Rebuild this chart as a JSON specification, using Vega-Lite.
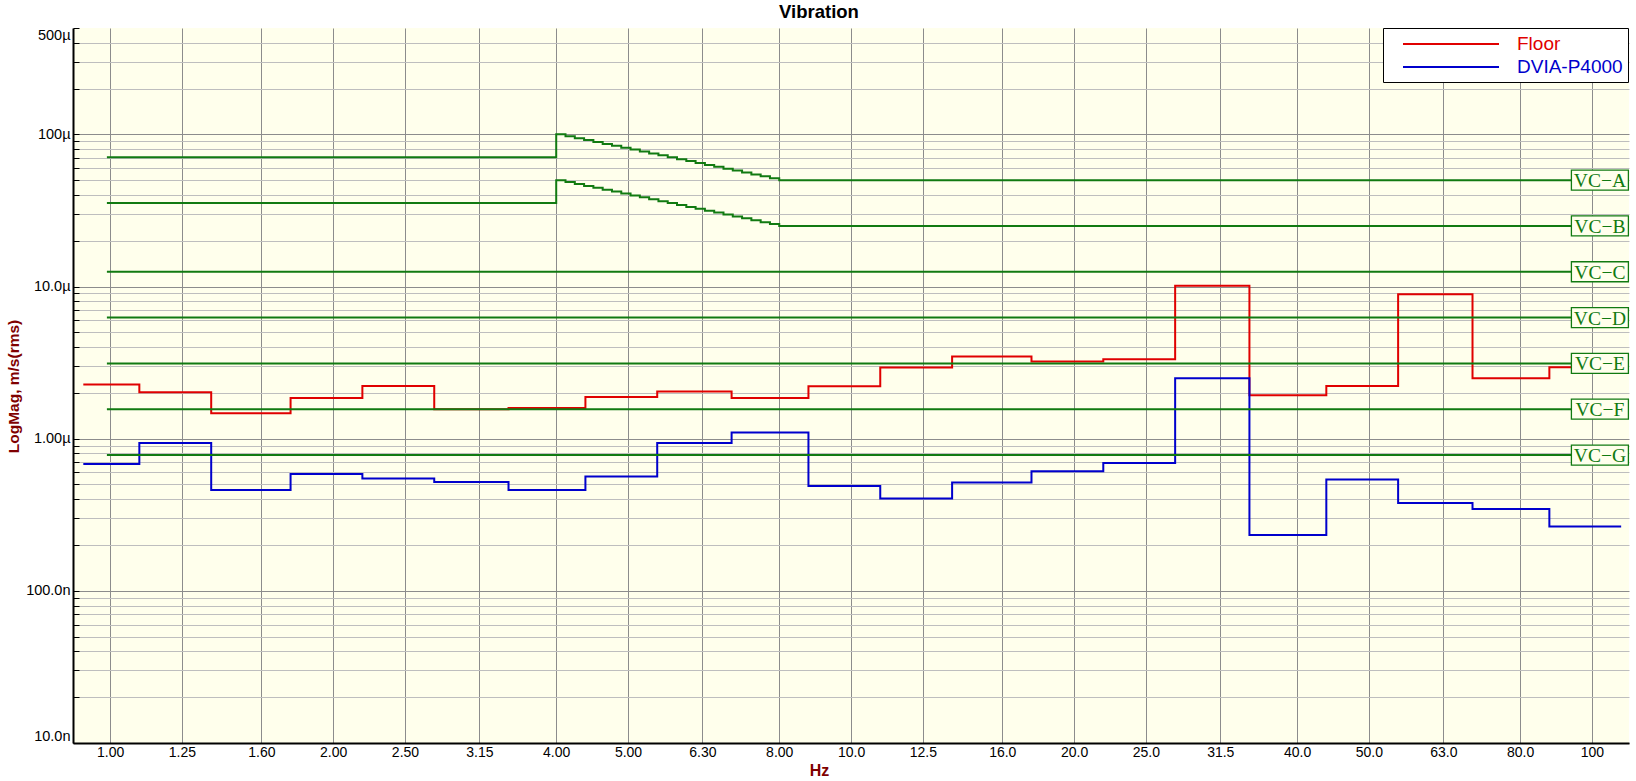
{
  "$schema": "https://vega.github.io/schema/vega-lite/v6.json",
  "width": 1556,
  "height": 715,
  "autosize": {"type": "none"},
  "padding": {"left": 73, "top": 28, "right": 7, "bottom": 38},
  "background": "white",
  "config": {"view": {"fill": "#FFFFEC", "stroke": null}, "font": "Liberation Sans"},
  "title": {"text": "Vibration", "fontSize": 18.5, "fontWeight": "bold", "font": "Liberation Sans", "color": "black", "anchor": "middle", "frame": "group", "dx": -32, "dy": 21, "offset": 12, "baseline": "alphabetic"},
  "datasets": {
    "spectra": [
      {"series": "Floor", "f": 0.92, "v": 2.27e-6},
      {"series": "Floor", "f": 1.095, "v": 2.02e-6},
      {"series": "Floor", "f": 1.369, "v": 1.47e-6},
      {"series": "Floor", "f": 1.752, "v": 1.85e-6},
      {"series": "Floor", "f": 2.19, "v": 2.22e-6},
      {"series": "Floor", "f": 2.738, "v": 1.5625e-6},
      {"series": "Floor", "f": 3.449, "v": 1.59e-6},
      {"series": "Floor", "f": 4.38, "v": 1.88e-6},
      {"series": "Floor", "f": 5.475, "v": 2.04e-6},
      {"series": "Floor", "f": 6.899, "v": 1.85e-6},
      {"series": "Floor", "f": 8.76, "v": 2.21e-6},
      {"series": "Floor", "f": 10.95, "v": 2.94e-6},
      {"series": "Floor", "f": 13.69, "v": 3.47e-6},
      {"series": "Floor", "f": 17.52, "v": 3.22e-6},
      {"series": "Floor", "f": 21.9, "v": 3.33e-6},
      {"series": "Floor", "f": 27.38, "v": 10.1e-6},
      {"series": "Floor", "f": 34.49, "v": 1.93e-6},
      {"series": "Floor", "f": 43.8, "v": 2.22e-6},
      {"series": "Floor", "f": 54.75, "v": 8.91e-6},
      {"series": "Floor", "f": 68.99, "v": 2.5e-6},
      {"series": "Floor", "f": 87.6, "v": 2.95e-6},
      {"series": "Floor", "f": 109.5, "v": 2.95e-6},
      {"series": "DVIA-P4000", "f": 0.92, "v": 0.681e-6},
      {"series": "DVIA-P4000", "f": 1.095, "v": 0.936e-6},
      {"series": "DVIA-P4000", "f": 1.369, "v": 0.46e-6},
      {"series": "DVIA-P4000", "f": 1.752, "v": 0.585e-6},
      {"series": "DVIA-P4000", "f": 2.19, "v": 0.548e-6},
      {"series": "DVIA-P4000", "f": 2.738, "v": 0.519e-6},
      {"series": "DVIA-P4000", "f": 3.449, "v": 0.46e-6},
      {"series": "DVIA-P4000", "f": 4.38, "v": 0.565e-6},
      {"series": "DVIA-P4000", "f": 5.475, "v": 0.936e-6},
      {"series": "DVIA-P4000", "f": 6.899, "v": 1.1e-6},
      {"series": "DVIA-P4000", "f": 8.76, "v": 0.488e-6},
      {"series": "DVIA-P4000", "f": 10.95, "v": 0.405e-6},
      {"series": "DVIA-P4000", "f": 13.69, "v": 0.516e-6},
      {"series": "DVIA-P4000", "f": 17.52, "v": 0.61e-6},
      {"series": "DVIA-P4000", "f": 21.9, "v": 0.691e-6},
      {"series": "DVIA-P4000", "f": 27.38, "v": 2.5e-6},
      {"series": "DVIA-P4000", "f": 34.49, "v": 0.233e-6},
      {"series": "DVIA-P4000", "f": 43.8, "v": 0.54e-6},
      {"series": "DVIA-P4000", "f": 54.75, "v": 0.3775e-6},
      {"series": "DVIA-P4000", "f": 68.99, "v": 0.345e-6},
      {"series": "DVIA-P4000", "f": 87.6, "v": 0.265e-6},
      {"series": "DVIA-P4000", "f": 109.5, "v": 0.265e-6}
    ],
    "vc": [
      {"name": "VC-A", "f": 0.99, "v": 70.7e-6},
      {"name": "VC-A", "f": 4.0, "v": 100e-6},
      {"name": "VC-A", "f": 4.1172, "v": 97.153e-6},
      {"name": "VC-A", "f": 4.2379, "v": 94.387e-6},
      {"name": "VC-A", "f": 4.362, "v": 91.7e-6},
      {"name": "VC-A", "f": 4.4898, "v": 89.09e-6},
      {"name": "VC-A", "f": 4.6214, "v": 86.553e-6},
      {"name": "VC-A", "f": 4.7568, "v": 84.09e-6},
      {"name": "VC-A", "f": 4.8962, "v": 81.697e-6},
      {"name": "VC-A", "f": 5.0397, "v": 79.37e-6},
      {"name": "VC-A", "f": 5.1874, "v": 77.111e-6},
      {"name": "VC-A", "f": 5.3394, "v": 74.915e-6},
      {"name": "VC-A", "f": 5.4958, "v": 72.783e-6},
      {"name": "VC-A", "f": 5.6569, "v": 70.711e-6},
      {"name": "VC-A", "f": 5.8226, "v": 68.698e-6},
      {"name": "VC-A", "f": 5.9932, "v": 66.742e-6},
      {"name": "VC-A", "f": 6.1688, "v": 64.842e-6},
      {"name": "VC-A", "f": 6.3496, "v": 62.996e-6},
      {"name": "VC-A", "f": 6.5357, "v": 61.202e-6},
      {"name": "VC-A", "f": 6.7272, "v": 59.46e-6},
      {"name": "VC-A", "f": 6.9243, "v": 57.768e-6},
      {"name": "VC-A", "f": 7.1272, "v": 56.123e-6},
      {"name": "VC-A", "f": 7.336, "v": 54.525e-6},
      {"name": "VC-A", "f": 7.551, "v": 52.973e-6},
      {"name": "VC-A", "f": 7.7723, "v": 51.465e-6},
      {"name": "VC-A", "f": 8.0, "v": 50e-6},
      {"name": "VC-A", "f": 100, "v": 50e-6},
      {"name": "VC-B", "f": 0.99, "v": 35.36e-6},
      {"name": "VC-B", "f": 4.0, "v": 50e-6},
      {"name": "VC-B", "f": 4.1172, "v": 48.577e-6},
      {"name": "VC-B", "f": 4.2379, "v": 47.194e-6},
      {"name": "VC-B", "f": 4.362, "v": 45.85e-6},
      {"name": "VC-B", "f": 4.4898, "v": 44.545e-6},
      {"name": "VC-B", "f": 4.6214, "v": 43.277e-6},
      {"name": "VC-B", "f": 4.7568, "v": 42.045e-6},
      {"name": "VC-B", "f": 4.8962, "v": 40.849e-6},
      {"name": "VC-B", "f": 5.0397, "v": 39.685e-6},
      {"name": "VC-B", "f": 5.1874, "v": 38.556e-6},
      {"name": "VC-B", "f": 5.3394, "v": 37.458e-6},
      {"name": "VC-B", "f": 5.4958, "v": 36.392e-6},
      {"name": "VC-B", "f": 5.6569, "v": 35.356e-6},
      {"name": "VC-B", "f": 5.8226, "v": 34.349e-6},
      {"name": "VC-B", "f": 5.9932, "v": 33.371e-6},
      {"name": "VC-B", "f": 6.1688, "v": 32.421e-6},
      {"name": "VC-B", "f": 6.3496, "v": 31.498e-6},
      {"name": "VC-B", "f": 6.5357, "v": 30.601e-6},
      {"name": "VC-B", "f": 6.7272, "v": 29.73e-6},
      {"name": "VC-B", "f": 6.9243, "v": 28.884e-6},
      {"name": "VC-B", "f": 7.1272, "v": 28.062e-6},
      {"name": "VC-B", "f": 7.336, "v": 27.263e-6},
      {"name": "VC-B", "f": 7.551, "v": 26.487e-6},
      {"name": "VC-B", "f": 7.7723, "v": 25.733e-6},
      {"name": "VC-B", "f": 8.0, "v": 25e-6},
      {"name": "VC-B", "f": 100, "v": 25e-6},
      {"name": "VC-C", "f": 0.99, "v": 12.5e-6},
      {"name": "VC-C", "f": 100, "v": 12.5e-6},
      {"name": "VC-D", "f": 0.99, "v": 6.25e-6},
      {"name": "VC-D", "f": 100, "v": 6.25e-6},
      {"name": "VC-E", "f": 0.99, "v": 3.125e-6},
      {"name": "VC-E", "f": 100, "v": 3.125e-6},
      {"name": "VC-F", "f": 0.99, "v": 1.5625e-6},
      {"name": "VC-F", "f": 100, "v": 1.5625e-6},
      {"name": "VC-G", "f": 0.99, "v": 0.78e-6},
      {"name": "VC-G", "f": 100, "v": 0.78e-6}
    ],
    "vclabels": [
      {"label": "VC−A", "v": 50e-6},
      {"label": "VC−B", "v": 25e-6},
      {"label": "VC−C", "v": 12.5e-6},
      {"label": "VC−D", "v": 6.25e-6},
      {"label": "VC−E", "v": 3.125e-6},
      {"label": "VC−F", "v": 1.5625e-6},
      {"label": "VC−G", "v": 0.78e-6}
    ]
  },
  "layer": [
    {
      "data": {"name": "spectra"},
      "mark": {"type": "line", "interpolate": "step-after", "strokeWidth": 2},
      "encoding": {
        "x": {
          "field": "f", "type": "quantitative",
          "scale": {"type": "log", "domain": [0.891, 112.2], "nice": false},
          "axis": {
            "values": [1, 1.25, 1.6, 2, 2.5, 3.15, 4, 5, 6.3, 8, 10, 12.5, 16, 20, 25, 31.5, 40, 50, 63, 80, 100],
            "format": ".3r",
            "grid": true, "gridColor": "#8C8C8C", "gridWidth": 1,
            "ticks": false,
            "domainColor": "black", "domainWidth": 2,
            "labelFontSize": 14, "labelColor": "black", "labelPadding": 2, "labelOverlap": false, "labelFlush": false,
            "title": "Hz", "titleFontSize": 16, "titleFontWeight": "bold", "titleColor": "#7F0000",
            "titleX": 746, "titleY": 27, "titleBaseline": "middle", "titleAlign": "center"
          }
        },
        "y": {
          "field": "v", "type": "quantitative",
          "scale": {"type": "log", "domain": [1e-8, 5e-4], "nice": false},
          "axis": {
            "values": [1e-8, 2e-8, 3e-8, 4e-8, 5e-8, 6e-8, 7e-8, 8e-8, 9e-8, 1e-7, 2e-7, 3e-7, 4e-7, 5e-7, 6e-7, 7e-7, 8e-7, 9e-7, 1e-6, 2e-6, 3e-6, 4e-6, 5e-6, 6e-6, 7e-6, 8e-6, 9e-6, 1e-5, 2e-5, 3e-5, 4e-5, 5e-5, 6e-5, 7e-5, 8e-5, 9e-5, 1e-4, 2e-4, 3e-4, 4e-4, 5e-4],
            "labelExpr": "abs(datum.value/1e-8 - 1) < 0.01 ? '10.0n' : abs(datum.value/1e-7 - 1) < 0.01 ? '100.0n' : abs(datum.value/1e-6 - 1) < 0.01 ? '1.00µ' : abs(datum.value/1e-5 - 1) < 0.01 ? '10.0µ' : abs(datum.value/1e-4 - 1) < 0.01 ? '100µ' : abs(datum.value/5e-4 - 1) < 0.01 ? '500µ' : ''",
            "grid": true,
            "gridColor": {"condition": {"test": "abs(log(datum.value)/LN10 - round(log(datum.value)/LN10)) < 0.01", "value": "#8C8C8C"}, "value": "#BEBEBE"},
            "gridOpacity": {"condition": {"test": "datum.value > 4.5e-4", "value": 0}, "value": 1},
            "tickSize": -6, "tickColor": "black",
            "domainColor": "black", "domainWidth": 2,
            "labelFontSize": 14.5, "labelColor": "black", "labelPadding": 9, "labelFlush": true, "labelOverlap": false,
            "title": "LogMag, m/s(rms)", "titleFontSize": 15.5, "titleFontWeight": "bold", "titleColor": "#7F0000",
            "titleX": -60, "titleY": 358, "titleAngle": 270, "titleBaseline": "middle", "titleAlign": "center"
          }
        },
        "color": {
          "field": "series", "type": "nominal",
          "scale": {"domain": ["Floor", "DVIA-P4000"], "range": ["#E00000", "#0000CC"]},
          "legend": {
            "title": null, "orient": "none", "legendX": 1310, "legendY": 0,
            "symbolType": "M-4.8,0L4.8,0", "symbolSize": 400, "symbolStrokeWidth": 2, "symbolFillColor": "transparent",
            "labelFontSize": 19, "labelFont": "Liberation Sans", "labelOffset": 55, "labelLimit": 300,
            "padding": 5, "symbolOffset": 52, "rowPadding": 2,
            "fillColor": "white", "strokeColor": "black",
            "encode": {"labels": {"update": {"fill": {"scale": "color", "field": "value"}}}}
          }
        }
      }
    },
    {
      "data": {"name": "vc"},
      "mark": {"type": "line", "interpolate": "step-after", "strokeWidth": 2, "color": "#117A11"},
      "encoding": {
        "x": {"field": "f", "type": "quantitative"},
        "y": {"field": "v", "type": "quantitative"},
        "detail": {"field": "name", "type": "nominal"}
      }
    },
    {
      "data": {"name": "vclabels"},
      "mark": {"type": "point", "shape": "M-2.85,-1L2.85,-1L2.85,1L-2.85,1Z", "size": 400, "filled": true, "fill": "#FFFFEC", "stroke": "#117A11", "strokeWidth": 1.3, "opacity": 1, "fillOpacity": 1, "strokeOpacity": 1},
      "encoding": {
        "x": {"datum": 102.5, "type": "quantitative"},
        "y": {"field": "v", "type": "quantitative"}
      }
    },
    {
      "data": {"name": "vclabels"},
      "mark": {"type": "text", "font": "Liberation Serif", "fontSize": 19.5, "color": "#117A11", "align": "center", "baseline": "middle", "dy": 1},
      "encoding": {
        "x": {"datum": 102.5, "type": "quantitative"},
        "y": {"field": "v", "type": "quantitative"},
        "text": {"field": "label"}
      }
    }
  ]
}
